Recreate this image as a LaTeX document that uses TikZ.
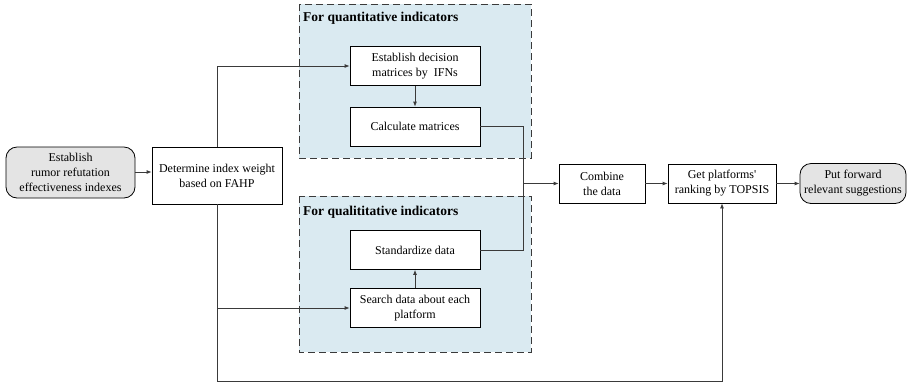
\documentclass[tikz,border=0pt]{standalone}
\usepackage{fontspec}
\setmainfont{Liberation Serif}
\newfontfamily\tnr{Liberation Serif}
\usetikzlibrary{arrows.meta,positioning}
\definecolor{regionblue}{HTML}{DAEAF1}
\definecolor{termgray}{HTML}{E4E4E4}
\definecolor{linegray}{HTML}{3A3A3A}
\tikzset{
  procbox/.style={draw=black, fill=white, line width=0.8pt, minimum width=130pt, minimum height=39pt, align=center, inner sep=1pt, font=\tnr\fontsize{12}{15}\selectfont},
  termbox/.style={procbox, fill=termgray, rounded corners=11pt},
  region/.style={draw=linegray, fill=regionblue, line width=0.9pt, dash pattern=on 7pt off 4pt},
  regtitle/.style={anchor=west, inner sep=0pt, font=\tnr\fontsize{13.5}{15}\selectfont\bfseries},
  conn/.style={draw=linegray, line width=0.8pt},
  arr/.style={conn, -{Latex[length=5pt,width=4pt]}}
}
\begin{document}
\begin{tikzpicture}[x=1pt,y=-1pt]
\useasboundingbox (0,0) rectangle (907,384);
% regions
\path[region] (299,4) rectangle (531,158);
\path[region] (299,196) rectangle (531,352);
\node[regtitle] (qt) at (303,18) {For quantitative indicators};
\node[regtitle] (lt) at (303,212) {For qualititative indicators};
% nodes
\node[termbox, minimum width=129pt, minimum height=51pt] (est) at (70.5,172.5) {Establish\\rumor refutation\\effectiveness indexes};
\node[procbox, minimum height=57pt] (det) at (217,175.5) {Determine index weight\\based on FAHP};
\node[procbox] (edm) at (415,66) {Establish decision\\matrices by\ \ IFNs};
\node[procbox] (calc) at (415,126.5) {Calculate matrices};
\node[procbox] (std) at (415,250) {Standardize data};
\node[procbox] (srch) at (415,308) {Search data about each\\platform};
\node[procbox, minimum width=86pt] (comb) at (602,183.5) {Combine\\the data};
\node[procbox, minimum width=108pt] (top) at (722,183.5) {Get platforms\textquotesingle\\ranking by TOPSIS};
\node[termbox, minimum width=106pt, minimum height=40pt] (put) at (853,183.5) {Put forward\\relevant suggestions};
\coordinate (J) at (523,183.5);
\coordinate (B) at (217,381);
% connectors
\draw[arr] (est.east |- 0,172) -- (det.west |- 0,172);
\draw[arr] (det.north) |- (edm.west);
\draw[arr] (det.south) |- (srch.west);
\draw[arr] (det.south) -- (B) -| (top.south);
\draw[arr] (edm) -- (calc);
\draw[arr] (srch) -- (std);
\draw[conn] (calc.east) -| (J);
\draw[conn] (std.east) -| (J);
\draw[arr] (J) -- (comb.west);
\draw[arr] (comb) -- (top);
\draw[arr] (top) -- (put);
\end{tikzpicture}
\end{document}
